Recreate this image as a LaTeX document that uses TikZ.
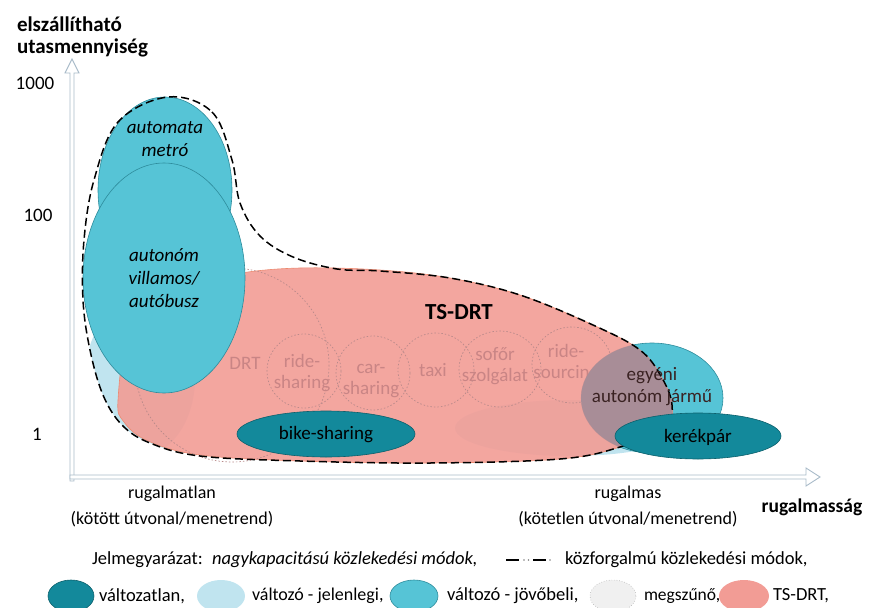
\documentclass[tikz,border=0pt]{standalone}
\usepackage{fontspec}
\setmainfont{Carlito}
\definecolor{darkteal}{HTML}{13899B}
\definecolor{midcyan}{HTML}{56C4D6}
\definecolor{cyanedge}{HTML}{2E8C9C}
\definecolor{lightblue}{HTML}{C0E4EF}
\definecolor{salmon}{HTML}{F29C95}
\definecolor{salmonedge}{HTML}{EC8A70}
\definecolor{mauve}{HTML}{A88D97}
\definecolor{ghost}{HTML}{C98585}
\definecolor{ghostline}{HTML}{B98A8A}
\definecolor{axisgray}{HTML}{A9BBC9}
\definecolor{brownish}{HTML}{3A2222}
\begin{document}
\begin{tikzpicture}[x=1pt,y=-1pt,
  every node/.style={inner sep=0pt, outer sep=0pt},
  axlbl/.style={font=\fontsize{21}{23}\selectfont\bfseries},
  numlbl/.style={font=\fontsize{19}{21}\selectfont},
  inlbl/.style={font=\fontsize{19}{23}\selectfont\itshape, align=center},
  ghostlbl/.style={font=\fontsize{19}{21}\selectfont, text=ghost, align=center},
  darklbl/.style={font=\fontsize{19}{22}\selectfont, align=center},
  xlbl/.style={font=\fontsize{18}{26}\selectfont, align=center},
  leg/.style={font=\fontsize{18.5}{20}\selectfont, anchor=west},
  axisarrow/.style={draw=axisgray, line width=0.9pt, fill=white, line join=miter},
  pubdash/.style={draw=black, line width=1.5pt, dash pattern=on 8pt off 4pt},
  gonecircle/.style={draw=ghostline, line width=0.7pt, dash pattern=on 1.5pt off 2pt},
  cyanshape/.style={fill=midcyan, draw=cyanedge, line width=0.6pt},
  tealshape/.style={fill=darkteal, draw=darkteal!70!black, line width=0.6pt},
]
\useasboundingbox (0,0) rectangle (876,608);

\def\tsdrt{plot[smooth cycle, tension=0.6] coordinates {(118,400) (130,330) (170,290) (235,274) (300,268) (380,270) (450,278) (520,295) (593,325) (640,350) (662,378) (672,405) (665,428) (620,447) (560,459) (430,463) (300,461) (200,455) (148,441) (124,422)}}
\def\pubpath{plot[smooth cycle, tension=0.6] coordinates {(168,97) (212,112) (232,160) (240,203) (260,236) (293,257) (337,269) (380,271) (450,278) (520,295) (593,325) (640,350) (662,378) (672,405) (665,428) (620,447) (560,459) (430,463) (300,461) (200,456) (150,443) (122,425) (103,395) (90,350) (83,300) (84,240) (94,180) (118,122)}}

% axes
\draw[axisarrow] (70,481) -- (70,73) -- (65,73) -- (72,59) -- (79,73) -- (74,73) -- (74,481) -- cycle;
\draw[axisarrow] (70,475) -- (806,475) -- (806,468) -- (820,477) -- (806,486) -- (806,479) -- (70,479) -- cycle;

% light blue (current) shapes
\begin{scope}
  \clip \pubpath;
  \fill[lightblue] (140,378) ellipse [x radius=55, y radius=78];
\end{scope}
\fill[lightblue] (570,428) ellipse [x radius=115, y radius=28];

% individual autonomous vehicle
\path[cyanshape] (652,398) ellipse [x radius=71, y radius=55];

% TS-DRT area
\fill[salmon, fill opacity=0.9] \tsdrt;
\draw[salmonedge, line width=0.6pt] \tsdrt;

% ceasing modes (dotted circles)
\draw[gonecircle] (232,365) circle [radius=97];
\draw[gonecircle] (304,371) ellipse [x radius=37, y radius=37];
\draw[gonecircle] (373,373) ellipse [x radius=37, y radius=37];
\draw[gonecircle] (436,370) ellipse [x radius=38, y radius=37];
\draw[gonecircle] (500,369) ellipse [x radius=41, y radius=38];
\draw[gonecircle] (572,365) ellipse [x radius=40, y radius=38];
\node[ghostlbl] (drt) at (245,363) {DRT};
\node[ghostlbl] (rides) at (302,373) {ride-\\sharing};
\node[ghostlbl] (cars) at (371,381) {car-\\sharing};
\node[ghostlbl] (taxi) at (433,370) {taxi};
\node[ghostlbl] (sofor) at (495,366) {sofőr\\szolgálat};
\node[ghostlbl] (ridesrc) at (566,363) {ride-\\sourcing};

% overlap of TS-DRT and individual autonomous vehicle
\begin{scope}
  \clip \tsdrt;
  \fill[mauve] (652,398) ellipse [x radius=71, y radius=55];
\end{scope}

% high capacity modes
\path[cyanshape] (165,190) ellipse [x radius=67, y radius=93];
\path[cyanshape] (164,278) ellipse [x radius=81, y radius=115];

% public transport outline
\draw[pubdash] \pubpath;

% unchanged modes
\path[tealshape] (326,434) ellipse [x radius=89, y radius=23];
\path[tealshape] (698,436) ellipse [x radius=83, y radius=23];

% labels in shapes
\node[inlbl] (metro) at (165,139) {automata\\metró};
\node[inlbl] (villamos) at (164,278) {autonóm\\villamos/\\autóbusz};
\node[font=\fontsize{23}{25}\selectfont\bfseries] (tsdrtlbl) at (459,312) {TS-DRT};
\node[darklbl] (bike) at (326,435) {bike-sharing};
\node[darklbl] (kerekpar) at (698,437) {kerékpár};
\node[darklbl, text=brownish] (egyeni) at (652,387) {egyéni\\autonóm jármű};

% axis labels
\node[axlbl, anchor=west] (yl1) at (17,24) {elszállítható};
\node[axlbl, anchor=west] (yl2) at (17,48) {utasmennyiség};
\node[numlbl] (n1000) at (35,83) {1000};
\node[numlbl] (n100) at (38,215) {100};
\node[numlbl] (n1) at (37,434) {1};
\node[xlbl] (rigid) at (172,506) {rugalmatlan\\(kötött útvonal/menetrend)};
\node[xlbl] (flex) at (628,506) {rugalmas\\(kötetlen útvonal/menetrend)};
\node[axlbl, font=\fontsize{19.5}{21}\selectfont\bfseries] (xl) at (812,507) {rugalmasság};

% legend line 1
\node[leg] (legtitle) at (92,560) {Jelmegyarázat:};
\node[leg, font=\fontsize{18.5}{20}\selectfont\itshape] (leghc) at (212,560) {nagykapacitású közlekedési módok,};
\coordinate (d1) at (506,560);
\coordinate (d2) at (519,560);
\coordinate (d3) at (533,560);
\coordinate (d4) at (546,560);
\draw[line width=1.4pt] (d1) -- (d2);
\draw[line width=1.4pt] (d3) -- (d4);
\fill[gray] (524,560) circle [radius=0.9];
\fill[gray] (528.5,560) circle [radius=0.9];
\fill[gray] (550,560) circle [radius=0.9];
\node[leg] (legpub) at (565,560) {közforgalmú közlekedési módok,};

% legend line 2
\path[tealshape] (71,596) ellipse [x radius=23, y radius=16];
\node[leg] (l1) at (99,596) {változatlan,};
\fill[lightblue] (221,596) ellipse [x radius=24, y radius=16];
\node[leg, font=\fontsize{18}{20}\selectfont] (l2) at (252,596) {változó - jelenlegi,};
\path[cyanshape] (414,596) ellipse [x radius=24, y radius=16];
\node[leg] (l3) at (447,596) {változó - jövőbeli,};
\path[fill=gray!12, draw=gray!60, dotted, line width=0.6pt] (613,596) ellipse [x radius=23, y radius=16];
\node[leg, font=\fontsize{17.5}{20}\selectfont] (l4) at (644,596) {megszűnő,};
\fill[salmon] (744,596) ellipse [x radius=25, y radius=16];
\node[leg] (l5) at (773,596) {TS-DRT,};
\end{tikzpicture}
\end{document}
